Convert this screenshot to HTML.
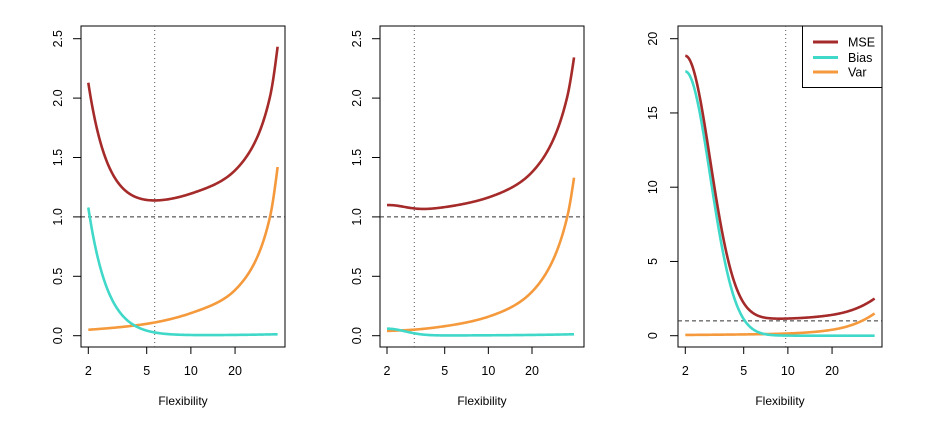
<!DOCTYPE html>
<html><head><meta charset="utf-8"><style>
html,body{margin:0;padding:0;background:#fff;}
svg{display:block;font-family:"Liberation Sans",Arial,sans-serif;}
</style></head><body>
<svg id="s" width="930" height="428" xmlns="http://www.w3.org/2000/svg"></svg>
<script>
const S=document.getElementById('s');let h='';
function mono(xs,ys){const n=xs.length,d=[],m=[];for(let i=0;i<n-1;i++)d.push((ys[i+1]-ys[i])/(xs[i+1]-xs[i]));
m[0]=d[0];m[n-1]=d[n-2];for(let i=1;i<n-1;i++){m[i]=(d[i-1]*d[i]<=0)?0:(d[i-1]+d[i])/2;}
for(let i=0;i<n-1;i++){if(d[i]==0){m[i]=m[i+1]=0;continue;}const a=m[i]/d[i],b=m[i+1]/d[i],t=a*a+b*b;if(t>9){const k=3/Math.sqrt(t);m[i]=k*a*d[i];m[i+1]=k*b*d[i];}}
return x=>{let i=0;while(i<n-2&&x>xs[i+1])i++;const hh=xs[i+1]-xs[i],t=(x-xs[i])/hh,t2=t*t,t3=t2*t;
return (2*t3-3*t2+1)*ys[i]+(t3-2*t2+t)*hh*m[i]+(-2*t3+3*t2)*ys[i+1]+(t3-t2)*hh*m[i+1];};}
function curve(pts){if(typeof pts==='function')return pts;const xs=pts.map(p=>Math.log(p[0])),ys=pts.map(p=>Math.log(p[1]));const f=mono(xs,ys);return x=>Math.exp(f(Math.log(x)));}
function panel(o){
 const {bx0,bx1,x2,x5,yTop,y0,ymax,xend,dot,ticks,B,V,lab}=o;
 const k=(x5-x2)/Math.log(2.5);const X=x=>x2+(Math.log(x)-Math.log(2))*k;
 const by0=26,by1=347;const Y=v=>y0-(y0-yTop)*v/ymax;
 h+=`<rect x="${bx0}" y="${by0}" width="${bx1-bx0}" height="${by1-by0}" fill="none" stroke="#000" stroke-width="1"/>`;
 h+=`<line x1="${bx0}" y1="${Y(0)}" x2="${bx0}" y2="${Y(ymax)}" stroke="#000"/>`;
 ticks.forEach(t=>{const y=Y(t);h+=`<line x1="${bx0-8}" y1="${y}" x2="${bx0}" y2="${y}" stroke="#000"/>`;
 h+=`<text x="${lab}" y="${y}" font-size="12.5" text-anchor="middle" transform="rotate(-90 ${lab} ${y})">${o.fmt(t)}</text>`;});
 h+=`<line x1="${X(2)}" y1="${by1}" x2="${X(20)}" y2="${by1}" stroke="#000"/>`;
 [2,5,10,20].forEach(t=>{const x=X(t);h+=`<line x1="${x}" y1="${by1}" x2="${x}" y2="${by1+7}" stroke="#000"/><text x="${x}" y="375" font-size="12.5" text-anchor="middle">${t}</text>`;});
 h+=`<text x="${(bx0+bx1)/2}" y="405" font-size="12" text-anchor="middle">Flexibility</text>`;
 h+=`<line x1="${bx0}" y1="${Y(1)}" x2="${bx1}" y2="${Y(1)}" stroke="#333" stroke-dasharray="4,3"/>`;
 h+=`<line x1="${dot}" y1="${by0}" x2="${dot}" y2="${by1}" stroke="#555" stroke-dasharray="1,3"/>`;
 const b=curve(B),v=curve(V);const N=240;let pb='',pv='',pm='';
 for(let i=0;i<=N;i++){const lx=Math.log(2)+(Math.log(xend)-Math.log(2))*i/N,x=Math.exp(lx);const bb=b(x),vv=v(x);
  const px=X(x).toFixed(2);pb+=(i?'L':'M')+px+','+Y(bb).toFixed(2);pv+=(i?'L':'M')+px+','+Y(vv).toFixed(2);pm+=(i?'L':'M')+px+','+Y(1+bb+vv).toFixed(2);}
 h+=`<path d="${pv}" fill="none" stroke="#f59a3c" stroke-width="2.6"/>`;
 h+=`<path d="${pb}" fill="none" stroke="#40d8c8" stroke-width="2.6"/>`;
 h+=`<path d="${pm}" fill="none" stroke="#a52a2a" stroke-width="2.6"/>`;
}
const f1=t=>t.toFixed(1);
const L2=Math.log(2);
panel({bx0:81,bx1:285,x2:88.3,x5:146.7,yTop:38.7,y0:335.7,ymax:2.5,xend:39,dot:154.7,ticks:[0,0.5,1,1.5,2,2.5],fmt:f1,lab:62,
 B:x=>{const d=Math.log(x)-L2;return 1.078*Math.exp(-3.3*d-0.3*d*d)+0.0005+0.0003*x;},
 V:[[2,0.05],[5,0.1],[10,0.19],[20,0.385],[34.6,1.0],[39,1.42]]});
panel({bx0:380,bx1:584,x2:387,x5:444.7,yTop:38.7,y0:335.7,ymax:2.5,xend:39,dot:414.3,ticks:[0,0.5,1,1.5,2,2.5],fmt:f1,lab:361,
 B:x=>{const d=Math.log(x)-L2;return 0.058*Math.exp(-6*d*d)+0.0005+0.0003*x;},
 V:[[2,0.04],[3,0.05],[5,0.08],[10,0.16],[20,0.37],[35,1.0],[39,1.33]]});
panel({bx0:678,bx1:882,x2:685.3,x5:743.7,yTop:38.7,y0:335.7,ymax:20,xend:39,dot:785.7,ticks:[0,5,10,15,20],fmt:t=>t,lab:657,
 B:x=>{const d=Math.log(x)-L2;return Math.exp(2.879-3.3*d*d)+0.003;},
 V:[[2,0.05],[10,0.15],[20,0.4],[39,1.5]]});
h+=`<rect x="802.5" y="26" width="79.5" height="61.5" fill="#fff" stroke="#000"/>`;
[['MSE','#a52a2a',42],['Bias','#40d8c8',57.5],['Var','#f59a3c',72]].forEach(([t,c,y])=>{
 h+=`<line x1="813" y1="${y}" x2="838" y2="${y}" stroke="${c}" stroke-width="3"/><text x="848" y="${y+4.5}" font-size="12.5">${t}</text>`;});
S.innerHTML=h;
</script>
</body></html>
